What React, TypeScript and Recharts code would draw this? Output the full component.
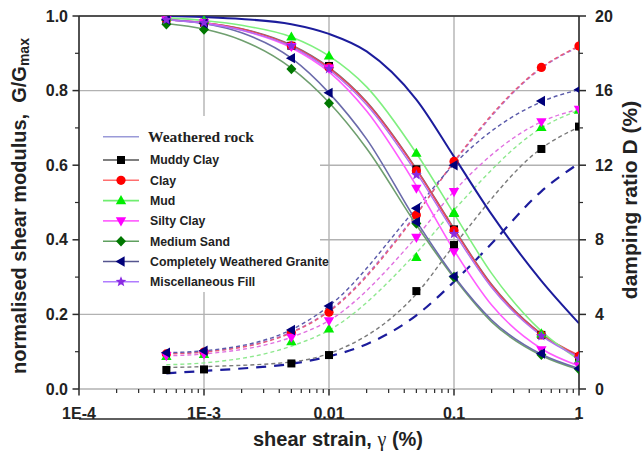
import React from 'react';
import { ComposedChart, Line, XAxis, YAxis, CartesianGrid, Legend, ReferenceLine, Customized } from 'recharts';

// ---------- axes ----------
const X_MAJOR = [0.0001, 0.001, 0.01, 0.1, 1];
const X_LABELS = ['1E-4', '1E-3', '0.01', '0.1', '1'];
const X_MINOR = [
  0.0002, 0.0003, 0.0004, 0.0005, 0.0006, 0.0007, 0.0008, 0.0009,
  0.002, 0.003, 0.004, 0.005, 0.006, 0.007, 0.008, 0.009,
  0.02, 0.03, 0.04, 0.05, 0.06, 0.07, 0.08, 0.09,
  0.2, 0.3, 0.4, 0.5, 0.6, 0.7, 0.8, 0.9,
];
const X_GRID = [0.001, 0.01, 0.1];
const G_MAJOR = [0, 0.2, 0.4, 0.6, 0.8, 1];
const G_LABELS = ['0.0', '0.2', '0.4', '0.6', '0.8', '1.0'];
const G_MINOR = [0.1, 0.3, 0.5, 0.7, 0.9];
const G_GRID = [0.2, 0.4, 0.6, 0.8];
const D_MAJOR = [0, 4, 8, 12, 16, 20];
const D_LABELS = ['0', '4', '8', '12', '16', '20'];
const D_MINOR = [2, 6, 10, 14, 18];

// ---------- data ----------
const STRAIN = [0.0005, 0.001, 0.005, 0.01, 0.05, 0.1, 0.5, 1];
const FIT_STRAIN = [0.0005, 0.001, 0.002, 0.005, 0.01, 0.02, 0.05, 0.1, 0.2, 0.5, 1];

const SERIES_NAMES = ['Weathered rock', 'Muddy Clay', 'Clay', 'Mud', 'Silty Clay', 'Medium Sand', 'Completely Weathered Granite', 'Miscellaneous Fill'];

// Weathered rock (fitted curves only)
const WR_G_FIT = [1.0, 0.997, 0.992, 0.978, 0.952, 0.905, 0.776, 0.623, 0.468, 0.29, 0.176];
const WR_D_FIT = [0.84, 0.97, 1.1, 1.35, 1.75, 2.4, 3.95, 5.75, 7.8, 10.6, 12.1];

// Muddy Clay
const MC_G = [0.99, 0.982, 0.92, 0.866, 0.589, 0.428, 0.145, 0.085];
const MC_D = [1.02, 1.05, 1.37, 1.82, 5.25, 7.72, 12.87, 14.07];
const MC_G_FIT = [0.99, 0.982, 0.966, 0.922, 0.862, 0.77, 0.59, 0.43, 0.28, 0.148, 0.087];
const MC_D_FIT = [1.15, 1.2, 1.45, 1.9, 5.1, 7.7, 12.9, 14.05];

// Clay
const CL_G = [0.99, 0.982, 0.92, 0.862, 0.585, 0.425, 0.145, 0.088];
const CL_D = [1.88, 1.98, 3.02, 4.12, 9.33, 12.2, 17.24, 18.39];
const CL_G_FIT = [0.99, 0.982, 0.965, 0.92, 0.86, 0.768, 0.588, 0.428, 0.278, 0.147, 0.09];
const CL_D_FIT = [1.88, 1.98, 3.02, 4.15, 9.35, 12.2, 17.24, 18.39];

// Mud
const MU_G = [0.997, 0.988, 0.944, 0.893, 0.632, 0.471, 0.148, 0.078];
const MU_D = [1.75, 1.85, 2.54, 3.22, 7.06, 9.45, 14.03, 14.95];
const MU_G_FIT = [0.995, 0.988, 0.975, 0.944, 0.893, 0.81, 0.632, 0.47, 0.31, 0.155, 0.078];
const MU_D_FIT = [1.3, 1.4, 2.3, 3.15, 7.3, 9.6, 14.0, 14.95];

// Silty Clay
const SC_G = [0.99, 0.982, 0.918, 0.86, 0.538, 0.368, 0.105, 0.062];
const SC_D = [1.78, 1.88, 2.77, 3.66, 8.13, 10.58, 14.33, 15.0];
const SC_G_FIT = [0.99, 0.982, 0.962, 0.915, 0.85, 0.745, 0.545, 0.372, 0.225, 0.108, 0.062];
const SC_D_FIT = [1.78, 1.88, 2.78, 3.67, 8.15, 10.6, 14.33, 15.0];

// Medium Sand
const MS_G = [0.978, 0.964, 0.858, 0.766, 0.444, 0.3, 0.092, 0.053];
const MS_G_FIT = [0.98, 0.965, 0.935, 0.86, 0.768, 0.645, 0.44, 0.298, 0.18, 0.09, 0.052];

// Completely Weathered Granite
const GR_G = [0.99, 0.98, 0.887, 0.794, 0.448, 0.302, 0.095, 0.055];
const GR_D = [1.95, 2.05, 3.16, 4.45, 9.69, 12.0, 15.44, 16.05];
const GR_G_FIT = [0.99, 0.98, 0.955, 0.887, 0.794, 0.67, 0.45, 0.302, 0.185, 0.093, 0.055];
const GR_D_FIT = [1.95, 2.05, 3.18, 4.45, 9.7, 12.05, 15.4, 16.05];

// Miscellaneous Fill
const MF_G = [0.99, 0.982, 0.92, 0.858, 0.574, 0.416, 0.142, 0.082];
const MF_G_FIT = [0.99, 0.98, 0.962, 0.918, 0.856, 0.762, 0.58, 0.42, 0.272, 0.143, 0.085];
const MF_D_FIT = [1.9, 2.0, 3.05, 4.2, 9.4, 12.15, 17.2, 18.35];

// ---------- layout ----------
const CHART_W = 644;
const CHART_H = 455;
const MARGIN = { top: 16, right: 20, bottom: 26, left: 19 };
const X_AXIS_H = 40;
const PLOT_BOTTOM = CHART_H - MARGIN.bottom - X_AXIS_H;

// ---------- helpers ----------
const pts = (xs: number[], ys: number[]) => xs.map((x, i) => ({ x, y: ys[i] }));

const SANS = '"Liberation Sans", Arial, Helvetica, sans-serif';
const SERIF = '"Liberation Serif", "Times New Roman", serif';
const AXIS = '#2a2a2a';

type Kind = 'square' | 'circle' | 'up' | 'down' | 'diamond' | 'left' | 'star';

function starPath(cx: number, cy: number, R: number, r: number) {
  let d = '';
  for (let i = 0; i < 10; i++) {
    const a = -Math.PI / 2 + (i * Math.PI) / 5;
    const rad = i % 2 === 0 ? R : r;
    d += (i ? 'L' : 'M') + (cx + rad * Math.cos(a)).toFixed(2) + ',' + (cy + rad * Math.sin(a)).toFixed(2);
  }
  return d + 'Z';
}

function Marker({ kind, cx, cy, color }: { kind: Kind; cx: number; cy: number; color: string }) {
  switch (kind) {
    case 'square':
      return <rect x={cx - 4} y={cy - 4} width={8} height={8} fill={color} />;
    case 'circle':
      return <circle cx={cx} cy={cy} r={4.6} fill={color} />;
    case 'up':
      return <path d={`M${cx},${cy - 5.5}L${cx + 5.2},${cy + 3.6}L${cx - 5.2},${cy + 3.6}Z`} fill={color} />;
    case 'down':
      return <path d={`M${cx},${cy + 5.5}L${cx + 5.2},${cy - 3.6}L${cx - 5.2},${cy - 3.6}Z`} fill={color} />;
    case 'diamond':
      return <path d={`M${cx},${cy - 5.3}L${cx + 5},${cy}L${cx},${cy + 5.3}L${cx - 5},${cy}Z`} fill={color} />;
    case 'left':
      return <path d={`M${cx - 5.5},${cy}L${cx + 3.6},${cy - 5.2}L${cx + 3.6},${cy + 5.2}Z`} fill={color} />;
    case 'star':
      return <path d={starPath(cx, cy, 5.6, 2.4)} fill={color} />;
  }
  return null;
}

const makeDot = (kind: Kind, color: string) => (p: any) => {
  if (p == null || p.cx == null || p.cy == null) return <g key={`e-${p?.index}`} />;
  return (
    <g key={`${kind}-${color}-${p.index}`}>
      <Marker kind={kind} cx={p.cx} cy={p.cy} color={color} />
    </g>
  );
};

// ---------- series config ----------
const G_FITS = [
  { key: 'wr', data: pts(FIT_STRAIN, WR_G_FIT), color: '#1c1c9c', width: 2 },
  { key: 'mc', data: pts(FIT_STRAIN, MC_G_FIT), color: '#707070', width: 1.6 },
  { key: 'cl', data: pts(FIT_STRAIN, CL_G_FIT), color: '#e8465e', width: 1.6 },
  { key: 'mu', data: pts(FIT_STRAIN, MU_G_FIT), color: '#7ff07f', width: 1.6 },
  { key: 'sc', data: pts(FIT_STRAIN, SC_G_FIT), color: '#ff5cff', width: 1.6 },
  { key: 'ms', data: pts(FIT_STRAIN, MS_G_FIT), color: '#6f9f6f', width: 1.6 },
  { key: 'gr', data: pts(FIT_STRAIN, GR_G_FIT), color: '#6b6bab', width: 1.6 },
  { key: 'mf', data: pts(FIT_STRAIN, MF_G_FIT), color: '#b070f0', width: 1.4 },
];

const D_FITS = [
  { key: 'wrd', data: pts(FIT_STRAIN, WR_D_FIT), color: '#1c1c9c', width: 2.2, dash: '10 8' },
  { key: 'mcd', data: pts(STRAIN, MC_D_FIT), color: '#7a7a7a', width: 1.4, dash: '4 3' },
  { key: 'mud', data: pts(STRAIN, MU_D_FIT), color: '#8ee88e', width: 1.4, dash: '4 3' },
  { key: 'scd', data: pts(STRAIN, SC_D_FIT), color: '#e070e0', width: 1.4, dash: '4 3' },
  { key: 'mfd', data: pts(STRAIN, MF_D_FIT), color: '#a878d8', width: 1.4, dash: '4 3' },
  { key: 'cld', data: pts(STRAIN, CL_D_FIT), color: '#e85a78', width: 1.4, dash: '4 3' },
  { key: 'grd', data: pts(STRAIN, GR_D_FIT), color: '#5a5aaa', width: 1.4, dash: '4 3' },
];

const MARKERS_G = [
  { key: 'mcg', data: pts(STRAIN, MC_G), kind: 'square' as Kind, color: '#000000' },
  { key: 'clg', data: pts(STRAIN, CL_G), kind: 'circle' as Kind, color: '#ff0000' },
  { key: 'mug', data: pts(STRAIN, MU_G), kind: 'up' as Kind, color: '#00ee00' },
  { key: 'scg', data: pts(STRAIN, SC_G), kind: 'down' as Kind, color: '#ff00ff' },
  { key: 'msg', data: pts(STRAIN, MS_G), kind: 'diamond' as Kind, color: '#007800' },
  { key: 'grg', data: pts(STRAIN, GR_G), kind: 'left' as Kind, color: '#00007a' },
  { key: 'mfg', data: pts(STRAIN, MF_G), kind: 'star' as Kind, color: '#8a2be2' },
];

const MARKERS_D = [
  { key: 'mcdm', data: pts(STRAIN, MC_D), kind: 'square' as Kind, color: '#000000' },
  { key: 'cldm', data: pts(STRAIN, CL_D), kind: 'circle' as Kind, color: '#ff0000' },
  { key: 'mudm', data: pts(STRAIN, MU_D), kind: 'up' as Kind, color: '#00ee00' },
  { key: 'scdm', data: pts(STRAIN, SC_D), kind: 'down' as Kind, color: '#ff00ff' },
  { key: 'grdm', data: pts(STRAIN, GR_D), kind: 'left' as Kind, color: '#00007a' },
];

const LEGEND_ITEMS: { line: string; kind: Kind | null; color: string }[] = [
  { line: '#9a9ad8', kind: null, color: '' },
  { line: '#555555', kind: 'square', color: '#000000' },
  { line: '#ff6f6f', kind: 'circle', color: '#ff0000' },
  { line: '#70ee70', kind: 'up', color: '#00ee00' },
  { line: '#ff66ff', kind: 'down', color: '#ff00ff' },
  { line: '#5fa05f', kind: 'diamond', color: '#007800' },
  { line: '#55558f', kind: 'left', color: '#00007a' },
  { line: '#b07cff', kind: 'star', color: '#8a2be2' },
];

// ---------- custom ticks ----------
const XTick = (props: any) => {
  const { x, payload } = props;
  const y = PLOT_BOTTOM;
  const v = payload?.value;
  const i = X_MAJOR.indexOf(v);
  if (i < 0) return <line x1={x} x2={x} y1={y} y2={y + 4} stroke={AXIS} strokeWidth={1.2} />;
  return (
    <g>
      <line x1={x} x2={x} y1={y} y2={y + 6.5} stroke={AXIS} strokeWidth={1.5} />
      <text x={x} y={y + 19} dy="0.71em" textAnchor="middle" fontFamily={SANS} fontWeight="bold" fontSize={16} fill="#222">
        {X_LABELS[i]}
      </text>
    </g>
  );
};

const GTick = (props: any) => {
  const { x, y, payload } = props;
  const v = payload?.value;
  const i = G_MAJOR.indexOf(v);
  if (i < 0) return <line x1={x - 4} x2={x} y1={y} y2={y} stroke={AXIS} strokeWidth={1.2} />;
  return (
    <g>
      <line x1={x - 6.5} x2={x} y1={y} y2={y} stroke={AXIS} strokeWidth={1.5} />
      <text x={x - 11} y={y} dy="0.355em" textAnchor="end" fontFamily={SANS} fontWeight="bold" fontSize={16} fill="#222">
        {G_LABELS[i]}
      </text>
    </g>
  );
};

const DTick = (props: any) => {
  const { x, y, payload } = props;
  const v = payload?.value;
  const i = D_MAJOR.indexOf(v);
  if (i < 0) return <line x1={x} x2={x + 4} y1={y} y2={y} stroke={AXIS} strokeWidth={1.2} />;
  return (
    <g>
      <line x1={x} x2={x + 7} y1={y} y2={y} stroke={AXIS} strokeWidth={1.5} />
      <text x={x + 16} y={y} dy="0.355em" textAnchor="start" fontFamily={SANS} fontWeight="bold" fontSize={16} fill="#222">
        {D_LABELS[i]}
      </text>
    </g>
  );
};

// ---------- titles & legend ----------
const Titles = () => (
  <g fontFamily={SANS} fontWeight="bold" fill="#222">
    <text x={338} y={446} textAnchor="middle" fontSize={20}>
      shear strain,{' '}
      <tspan fontFamily={SERIF} fontWeight="normal">γ</tspan> (%)
    </text>
    <text x={26} y={206} transform="rotate(-90, 26, 206)" textAnchor="middle" fontSize={20}>
      {'normalised shear modulus,\u00A0 G/G'}
      <tspan fontSize={14} dy={3}>max</tspan>
    </text>
    <text x={637} y={200} transform="rotate(-90, 637, 200)" textAnchor="middle" fontSize={21}>
      damping ratio D (%)
    </text>
  </g>
);

const LEGEND_ROWS = [20.7, 44, 64.3, 84.6, 104.9, 125.2, 145.5, 165.8];

const LegendBox = () => (
  <svg width={240} height={176} style={{ display: 'block', overflow: 'visible' }}>
    <rect x={0} y={0} width={240} height={176} fill="#ffffff" />
    {LEGEND_ITEMS.map((it, i) => {
      const y = LEGEND_ROWS[i];
      return (
        <g key={i}>
          <line x1={23} x2={59} y1={y} y2={y} stroke={it.line} strokeWidth={1.6} />
          {it.kind && <Marker kind={it.kind} cx={41} cy={y} color={it.color} />}
          {i === 0 ? (
            <text x={68} y={y} dy="0.35em" fontFamily={SERIF} fontWeight="bold" fontSize={15.5} fill="#222">
              {SERIES_NAMES[i]}
            </text>
          ) : (
            <text x={70} y={y} dy="0.35em" fontFamily={SANS} fontWeight="bold" fontSize={12.3} fill="#222">
              {SERIES_NAMES[i]}
            </text>
          )}
        </g>
      );
    })}
  </svg>
);

export default function App() {
  return (
    <div style={{ position: 'absolute', left: 0, top: 0, width: CHART_W, height: CHART_H, background: '#fff' }}>
      <ComposedChart width={CHART_W} height={CHART_H} margin={MARGIN}>
        <XAxis
          xAxisId="main"
          dataKey="x"
          type="number"
          scale="log"
          domain={[0.0001, 1]}
          allowDataOverflow
          ticks={[...X_MAJOR, ...X_MINOR]}
          interval={0}
          tick={<XTick />}
          tickLine={false}
          tickSize={0}
          tickMargin={0}
          height={X_AXIS_H}
          axisLine={{ stroke: AXIS, strokeWidth: 1.5 }}
        />
        <XAxis xAxisId="grid" dataKey="x" type="number" scale="log" domain={[0.0001, 1]} allowDataOverflow ticks={X_GRID} hide />
        <YAxis
          yAxisId="g"
          orientation="left"
          type="number"
          domain={[0, 1]}
          allowDataOverflow
          ticks={[...G_MAJOR, ...G_MINOR]}
          interval={0}
          tick={<GTick />}
          tickLine={false}
          tickSize={0}
          tickMargin={0}
          width={60}
          axisLine={{ stroke: AXIS, strokeWidth: 1.5 }}
        />
        <YAxis yAxisId="ggrid" type="number" domain={[0, 1]} allowDataOverflow ticks={G_GRID} hide />
        <YAxis
          yAxisId="d"
          orientation="right"
          type="number"
          domain={[0, 20]}
          allowDataOverflow
          ticks={[...D_MAJOR, ...D_MINOR]}
          interval={0}
          tick={<DTick />}
          tickLine={false}
          tickSize={0}
          tickMargin={0}
          width={45}
          axisLine={{ stroke: AXIS, strokeWidth: 1.5 }}
        />
        <CartesianGrid xAxisId="grid" yAxisId="ggrid" stroke="#b2b2b2" strokeWidth={1.4} />
        <ReferenceLine xAxisId="main" yAxisId="g" y={1} stroke={AXIS} strokeWidth={1.5} />

        {D_FITS.map((s) => (
          <Line
            key={s.key}
            xAxisId="main"
            yAxisId="d"
            data={s.data}
            dataKey="y"
            type="monotone"
            stroke={s.color}
            strokeWidth={s.width}
            strokeDasharray={s.dash}
            dot={false}
            activeDot={false}
            isAnimationActive={false}
            legendType="none"
          />
        ))}
        {G_FITS.map((s) => (
          <Line
            key={s.key}
            xAxisId="main"
            yAxisId="g"
            data={s.data}
            dataKey="y"
            type="monotone"
            stroke={s.color}
            strokeWidth={s.width}
            dot={false}
            activeDot={false}
            isAnimationActive={false}
            legendType="none"
          />
        ))}
        {MARKERS_D.map((s) => (
          <Line
            key={s.key}
            xAxisId="main"
            yAxisId="d"
            data={s.data}
            dataKey="y"
            stroke="none"
            dot={makeDot(s.kind, s.color)}
            activeDot={false}
            isAnimationActive={false}
            legendType="none"
          />
        ))}
        {MARKERS_G.map((s) => (
          <Line
            key={s.key}
            xAxisId="main"
            yAxisId="g"
            data={s.data}
            dataKey="y"
            stroke="none"
            dot={makeDot(s.kind, s.color)}
            activeDot={false}
            isAnimationActive={false}
            legendType="none"
          />
        ))}
        <Customized component={Titles} />
        <Legend
          layout="vertical"
          align="center"
          verticalAlign="middle"
          wrapperStyle={{ position: 'absolute', left: 80, top: 116, width: 240, height: 176, margin: 0, padding: 0 }}
          content={() => <LegendBox />}
        />
      </ComposedChart>
    </div>
  );
}
